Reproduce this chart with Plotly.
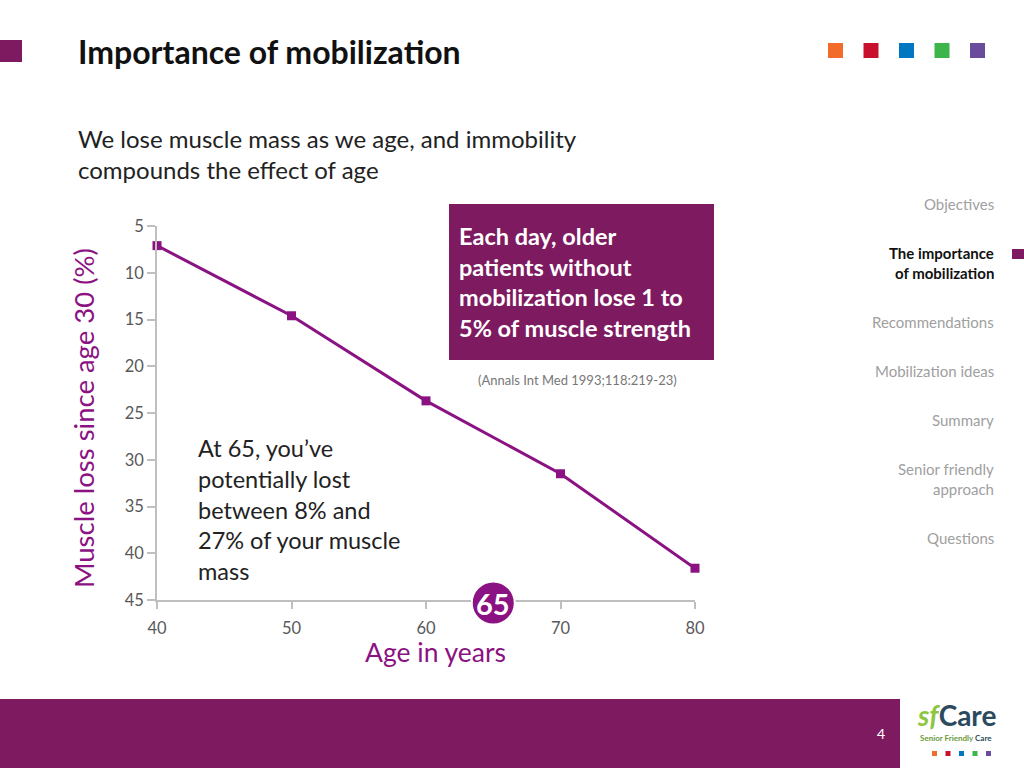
import plotly.graph_objects as go

# ---- data ----
ages = [40, 50, 60, 70, 80]
muscle_loss = [7.1, 14.6, 23.7, 31.5, 41.6]
y_ticks = [5, 10, 15, 20, 25, 30, 35, 40, 45]
x_ticks = [40, 50, 60, 70, 80]
title_text = "Importance of mobilization"
subtitle_lines = ["We lose muscle mass as we age, and immobility", "compounds the effect of age"]
box_lines = ["Each day, older", "patients without", "mobilization lose 1 to", "5% of muscle strength"]
note_lines = ["At 65, you\u2019ve", "potentially lost", "between 8% and", "27% of your muscle", "mass"]
citation = "(Annals Int Med 1993;118:219-23)"
nav_items = [("Objectives", False, 204), ("The importance", True, 253), ("of mobilization", True, 273),
             ("Recommendations", False, 322), ("Mobilization ideas", False, 371), ("Summary", False, 420),
             ("Senior friendly", False, 469), ("approach", False, 489), ("Questions", False, 538)]
brand_colors = ["#F26B2A", "#C8102E", "#0077C0", "#3DB54A", "#6A4C9C"]
highlight_age = 65

PURPLE = "#7E1A60"
LINE_PURPLE = "#8B1282"
FONT = "Lato"

# plot area in pixels
L, R, T, B = 157, 695, 226, 600
W, H = 1024, 768
X_RANGE = [40, 80]


def px(x):
    return (x - L) / (R - L)


def py(y):
    return (B - y) / (B - T)


fig = go.Figure()
fig.add_trace(go.Scatter(
    x=ages, y=muscle_loss, mode="lines+markers",
    line=dict(color=LINE_PURPLE, width=3),
    marker=dict(symbol="square", size=9, color=LINE_PURPLE),
    cliponaxis=False,
    hoverinfo="x+y", showlegend=False,
))

shapes = []
annotations = []


def rect(x0, x1, y0, y1, color):
    shapes.append(dict(type="rect", xref="paper", yref="paper", x0=px(x0), x1=px(x1), y0=py(y1), y1=py(y0),
                       fillcolor=color, line=dict(width=0), layer="below"))


def text(x, y, t, size, color, xanchor="left", **kw):
    annotations.append(dict(x=px(x), y=py(y), xref="paper", yref="paper", text=t, showarrow=False,
                            xanchor=xanchor, yanchor="middle", borderpad=0,
                            font=dict(family=FONT, size=size, color=color), **kw))


# top-left square
rect(0, 22, 40, 62, PURPLE)
# top-right colour squares
for i, c in enumerate(brand_colors):
    x0 = 828 + i * 35.5
    rect(x0, x0 + 15, 43, 58, c)
# info box
rect(449, 714, 204, 360, PURPLE)
# nav marker
rect(1012, 1024, 249, 259, PURPLE)
# footer
rect(0, 900, 699, 768, PURPLE)
# logo squares
for i, c in enumerate(brand_colors):
    x0 = 932 + i * 13.5
    rect(x0, x0 + 5, 751, 756, c)

# 65 circle on the x axis (position derived from the axis scale)
cx = px(L + (highlight_age - X_RANGE[0]) / (X_RANGE[1] - X_RANGE[0]) * (R - L))
shapes.append(dict(type="circle", xref="paper", yref="paper", xsizemode="pixel", ysizemode="pixel",
                   xanchor=cx, yanchor=py(603), x0=-21.5, x1=21.5, y0=-21.5, y1=21.5,
                   fillcolor=LINE_PURPLE, line=dict(color="white", width=2), layer="above"))
annotations.append(dict(x=cx, y=py(603), xref="paper", yref="paper", text="<b>65</b>", showarrow=False,
                        font=dict(family=FONT, size=29, color="white"), xanchor="center", yanchor="middle"))

# title
text(77, 52, "<b>" + title_text + "</b>", 32, "#111111")
# subtitle
for i, t in enumerate(subtitle_lines):
    text(77, 138 + i * 31, t, 24, "#222222")
# box text
for i, t in enumerate(box_lines):
    text(458, 236 + i * 30.7, "<b>" + t + "</b>", 23.5, "white")
text(577, 380, citation, 13, "#777777", xanchor="center")
# note
for i, t in enumerate(note_lines):
    text(197, 448 + i * 30.8, t, 23.5, "#222222")
# axis titles
text(83, 418, "Muscle loss since age 30 (%)", 27.5, LINE_PURPLE, xanchor="center", textangle=-90)
text(435, 652, "Age in years", 26.5, LINE_PURPLE, xanchor="center")
# nav
for t, bold, yy in nav_items:
    text(995, yy, ("<b>" + t + "</b>") if bold else t, 15, "#111111" if bold else "#A0A0A0", xanchor="right")
# page number
text(881, 733, "4", 14, "white", xanchor="center")
# logo
text(956, 715, "<b><i><span style='color:#8DC63F'>sf</span></i><span style='color:#2C4A5E'>Care</span></b>",
     28, "#2C4A5E", xanchor="center")
text(956, 738, "<b><span style='color:#6A9A3A'>Senior Friendly</span> <span style='color:#2C4A5E'>Care</span></b>",
     8, "#2C4A5E", xanchor="center")

fig.update_layout(
    width=W, height=H, autosize=False,
    margin=dict(l=L, r=W - R, t=T, b=H - B, pad=0),
    paper_bgcolor="white", plot_bgcolor="white",
    shapes=shapes, annotations=annotations,
    font=dict(family=FONT),
    xaxis=dict(range=X_RANGE, tickvals=x_ticks, showgrid=False, zeroline=False,
               showline=True, linecolor="#BFBFBF", linewidth=1.5,
               ticks="outside", ticklen=7, tickcolor="#BFBFBF", tickwidth=1.5,
               ticklabelstandoff=5,
               tickfont=dict(family=FONT, size=16.5, color="#595959")),
    yaxis=dict(range=[45, 5], tickvals=y_ticks, showgrid=False, zeroline=False,
               showline=True, linecolor="#BFBFBF", linewidth=1.5,
               ticks="outside", ticklen=8, tickcolor="#BFBFBF", tickwidth=1.5,
               tickfont=dict(family=FONT, size=16.5, color="#595959")),
)

fig.write_html("out.html", config={"displayModeBar": False},
               post_script="document.body.style.margin='0';document.body.style.overflow='hidden';")
